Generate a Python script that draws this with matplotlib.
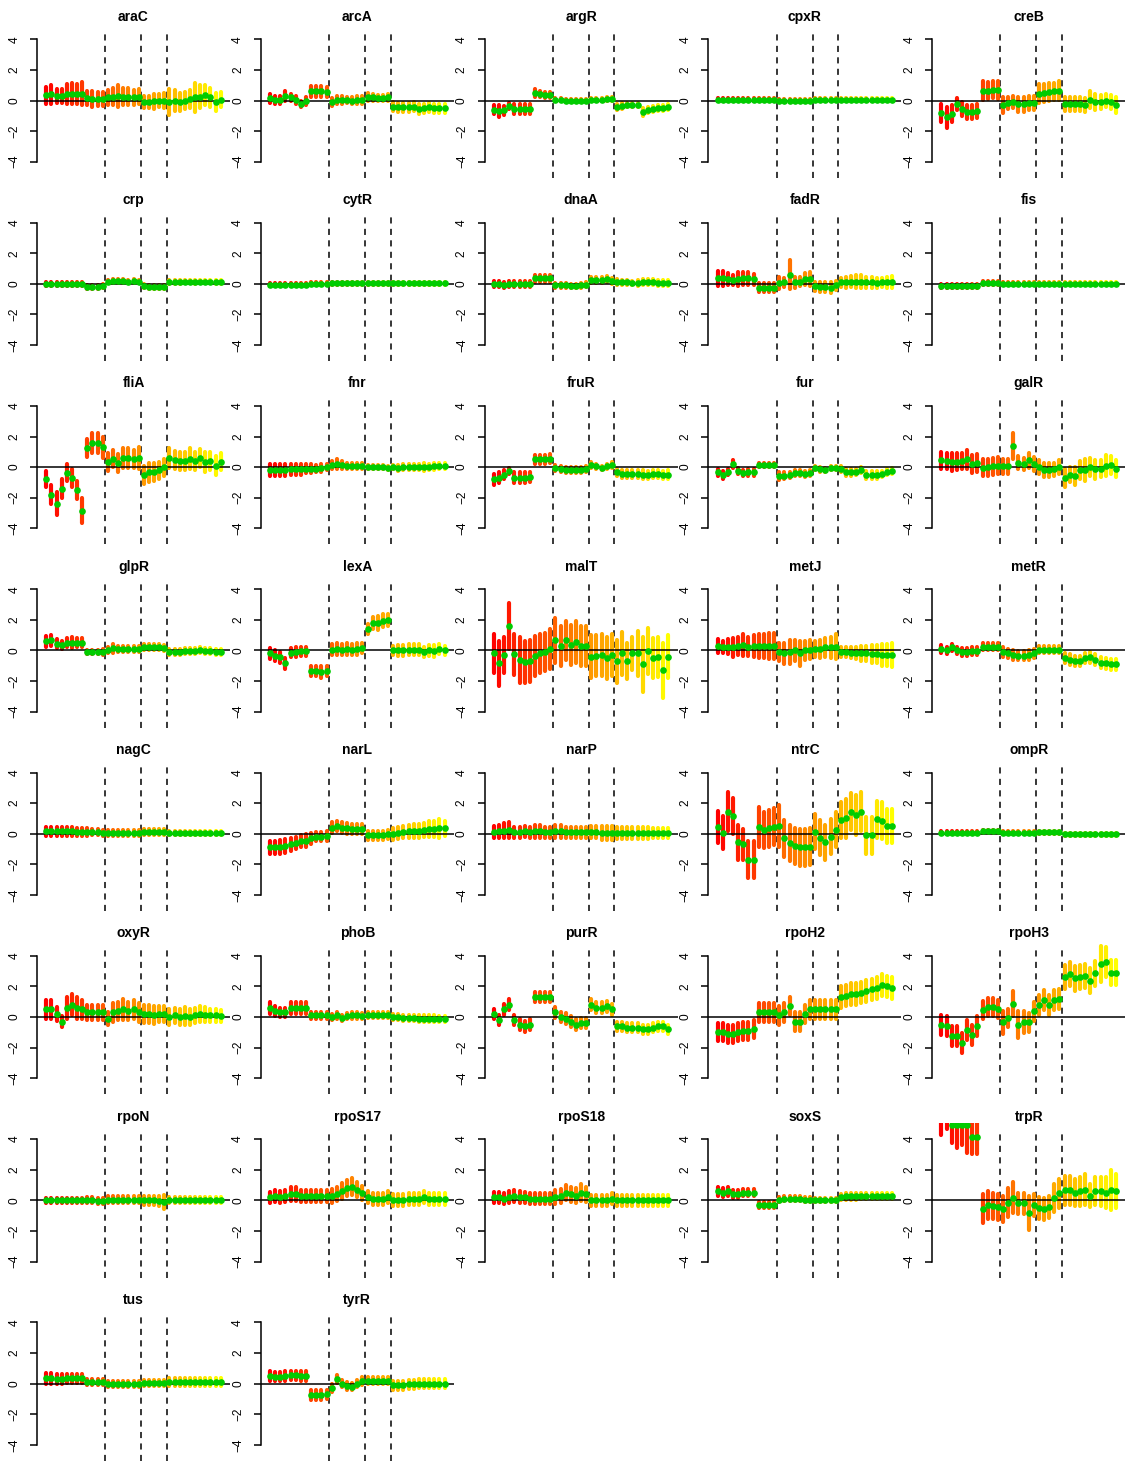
import matplotlib
matplotlib.use("Agg")
import matplotlib.pyplot as plt
from matplotlib.colors import LinearSegmentedColormap

plt.rcParams['font.family'] = ['Liberation Sans', 'DejaVu Sans']

# ---------------- data ----------------
tf_names = ["araC", "arcA", "argR", "cpxR", "creB",
            "crp", "cytR", "dnaA", "fadR", "fis",
            "fliA", "fnr", "fruR", "fur", "galR",
            "glpR", "lexA", "malT", "metJ", "metR",
            "nagC", "narL", "narP", "ntrC", "ompR",
            "oxyR", "phoB", "purR", "rpoH2", "rpoH3",
            "rpoN", "rpoS17", "rpoS18", "soxS", "trpR",
            "tus", "tyrR"]

conditions = list(range(1, 36))
boundaries = [12.5, 19.5, 24.5]
yticks = [-4, -2, 0, 2, 4]

mean_araC = [0.35,0.4,0.3,0.3,0.4,0.45,0.4,0.45, 0.15,0.1,0.1,0.1, 0.2,0.25,0.3,0.25,0.25,0.2,0.25, -0.1,-0.1,-0.05,0.0,0.0, -0.1,0.0,-0.1,0.0,0.1,0.2,0.25,0.35,0.2,-0.1,0.05]
err_araC = [0.55,0.6,0.45,0.45,0.65,0.7,0.65,0.75, 0.45,0.5,0.45,0.45, 0.5,0.55,0.7,0.55,0.55,0.5,0.5, 0.4,0.4,0.5,0.45,0.5, 0.85,0.7,0.6,0.55,0.6,0.95,0.75,0.65,0.6,0.6,0.5]

mean_arcA = [0.15,0.05,0.05,0.3,0.2,0.05,-0.2,-0.05, 0.6,0.6,0.6,0.55, -0.1,0.05,0.05,0.05,0.0,0.05,0.05, 0.25,0.2,0.15,0.15,0.2, -0.4,-0.45,-0.45,-0.45,-0.4,-0.55,-0.5,-0.45,-0.5,-0.5,-0.5]
err_arcA = [0.3,0.25,0.25,0.3,0.25,0.25,0.2,0.25, 0.35,0.35,0.35,0.3, 0.25,0.25,0.25,0.2,0.25,0.25,0.25, 0.25,0.2,0.2,0.2,0.25, 0.3,0.3,0.3,0.3,0.3,0.35,0.3,0.3,0.3,0.3,0.3]

mean_argR = [-0.6,-0.7,-0.65,-0.35,-0.55,-0.55,-0.55,-0.55, 0.5,0.4,0.35,0.35, 0.05,0.05,0.0,0.0,0.0,0.0,0.0, 0.05,0.05,0.05,0.1,0.1, -0.45,-0.35,-0.3,-0.3,-0.3,-0.75,-0.6,-0.55,-0.5,-0.5,-0.4]
err_argR = [0.3,0.4,0.3,0.2,0.3,0.3,0.3,0.3, 0.25,0.2,0.2,0.2, 0.1,0.1,0.1,0.1,0.1,0.1,0.1, 0.1,0.1,0.1,0.1,0.1, 0.2,0.2,0.15,0.15,0.15,0.25,0.2,0.2,0.2,0.2,0.2]

mean_cpxR = [0.05,0.05,0.05,0.05,0.05,0.05,0.05,0.05, 0.05,0.05,0.05,0.05, 0.0,0.0,0.0,0.0,0.0,0.0,0.0, 0.05,0.05,0.05,0.05,0.05, 0.05,0.05,0.05,0.05,0.05,0.05,0.05,0.05,0.05,0.05,0.05]
err_cpxR = [0.1,0.1,0.1,0.1,0.1,0.1,0.1,0.1, 0.1,0.1,0.1,0.1, 0.1,0.1,0.1,0.1,0.1,0.1,0.1, 0.1,0.1,0.1,0.1,0.1, 0.1,0.1,0.1,0.1,0.1,0.1,0.1,0.1,0.1,0.1,0.1]

mean_creB = [-0.8,-1.1,-0.85,-0.25,-0.55,-0.75,-0.75,-0.7, 0.65,0.65,0.7,0.7, -0.3,-0.15,-0.1,-0.25,-0.25,-0.15,-0.15, 0.45,0.5,0.55,0.6,0.65, -0.25,-0.25,-0.25,-0.25,-0.3,0.05,-0.1,-0.1,0.0,-0.1,-0.3]
err_creB = [0.6,0.7,0.55,0.4,0.45,0.45,0.45,0.45, 0.6,0.55,0.55,0.6, 0.5,0.4,0.4,0.5,0.5,0.45,0.45, 0.6,0.6,0.6,0.55,0.6, 0.45,0.45,0.45,0.45,0.45,0.55,0.5,0.45,0.45,0.45,0.5]

mean_crp = [0.0,0.0,0.0,0.0,0.0,0.0,0.0,0.0, -0.2,-0.2,-0.2,-0.15, 0.15,0.2,0.2,0.2,0.15,0.2,0.15, -0.15,-0.2,-0.2,-0.2,-0.2, 0.1,0.1,0.1,0.15,0.15,0.1,0.15,0.15,0.15,0.1,0.1]
err_crp = [0.12,0.12,0.12,0.12,0.12,0.12,0.12,0.12, 0.12,0.12,0.12,0.12, 0.12,0.12,0.12,0.12,0.12,0.12,0.12, 0.12,0.12,0.12,0.12,0.12, 0.12,0.12,0.12,0.12,0.12,0.12,0.12,0.12,0.12,0.12,0.12]

mean_cytR = [-0.05,-0.05,-0.05,-0.05,-0.05,-0.05,-0.05,-0.05, 0.0,0.0,0.0,0.0, 0.05,0.05,0.05,0.05,0.05,0.05,0.05, 0.05,0.05,0.05,0.05,0.05, 0.05,0.05,0.05,0.05,0.05,0.05,0.05,0.05,0.05,0.05,0.05]
err_cytR = [0.12,0.12,0.12,0.12,0.12,0.12,0.12,0.12, 0.1,0.1,0.1,0.1, 0.1,0.1,0.1,0.1,0.1,0.1,0.1, 0.1,0.1,0.1,0.1,0.1, 0.1,0.1,0.1,0.1,0.1,0.1,0.1,0.1,0.1,0.1,0.1]

mean_dnaA = [0.0,0.0,-0.05,0.0,0.0,0.0,0.0,0.0, 0.35,0.35,0.35,0.35, -0.1,-0.1,-0.1,-0.15,-0.15,-0.1,-0.05, 0.25,0.25,0.25,0.3,0.2, 0.1,0.1,0.1,0.05,0.05,0.1,0.1,0.1,0.05,0.05,0.05]
err_dnaA = [0.2,0.2,0.2,0.2,0.2,0.2,0.2,0.2, 0.25,0.25,0.25,0.25, 0.15,0.15,0.15,0.15,0.15,0.15,0.15, 0.2,0.2,0.2,0.2,0.2, 0.2,0.15,0.15,0.15,0.2,0.2,0.2,0.2,0.2,0.2,0.2]

mean_fadR = [0.35,0.35,0.3,0.25,0.3,0.35,0.35,0.3, -0.25,-0.25,-0.25,-0.25, 0.05,0.1,0.6,0.1,0.15,0.3,0.3, -0.15,-0.2,-0.2,-0.25,-0.1, 0.1,0.1,0.15,0.15,0.15,0.1,0.1,0.05,0.1,0.1,0.1]
err_fadR = [0.5,0.5,0.4,0.35,0.45,0.45,0.45,0.35, 0.3,0.3,0.3,0.3, 0.4,0.3,0.95,0.35,0.3,0.4,0.45, 0.3,0.35,0.35,0.35,0.3, 0.3,0.35,0.35,0.4,0.4,0.35,0.35,0.35,0.3,0.35,0.4]

mean_fis = [-0.15,-0.15,-0.15,-0.15,-0.15,-0.15,-0.15,-0.15, 0.05,0.05,0.05,0.05, 0.0,0.0,0.0,0.0,0.0,0.0,0.0, 0.0,0.0,0.0,0.0,0.0, 0.0,0.0,0.0,0.0,0.0,0.0,0.0,0.0,0.0,0.0,0.0]
err_fis = [0.12,0.12,0.12,0.12,0.12,0.12,0.12,0.12, 0.12,0.12,0.12,0.12, 0.1,0.1,0.1,0.1,0.1,0.1,0.1, 0.1,0.1,0.1,0.1,0.1, 0.1,0.1,0.1,0.1,0.1,0.1,0.1,0.1,0.1,0.1,0.1]

mean_fliA = [-0.77,-1.8,-2.4,-1.4,-0.37,-0.7,-1.5,-2.85, 1.25,1.55,1.55,1.3, 0.35,0.55,0.25,0.6,0.6,0.55,0.6, -0.5,-0.35,-0.3,-0.2,0.0, 0.6,0.45,0.4,0.4,0.55,0.4,0.6,0.35,0.4,0.1,0.35]
err_fliA = [0.5,0.6,0.75,0.6,0.55,0.6,0.6,0.8, 0.6,0.65,0.65,0.7, 0.6,0.55,0.6,0.65,0.65,0.6,0.7, 0.6,0.6,0.6,0.55,0.55, 0.65,0.6,0.6,0.6,0.7,0.6,0.6,0.65,0.6,0.6,0.55]

mean_fnr = [-0.2,-0.2,-0.2,-0.2,-0.15,-0.15,-0.15,-0.1, -0.1,-0.1,-0.05,0.0, 0.15,0.2,0.15,0.1,0.1,0.1,0.1, 0.0,0.0,0.0,0.0,-0.05, 0.0,-0.05,0.0,0.0,0.0,0.0,0.0,0.0,0.05,0.05,0.05]
err_fnr = [0.4,0.4,0.4,0.4,0.35,0.35,0.35,0.3, 0.3,0.25,0.25,0.2, 0.25,0.3,0.25,0.2,0.2,0.2,0.2, 0.15,0.15,0.15,0.15,0.15, 0.15,0.2,0.2,0.2,0.2,0.2,0.25,0.2,0.25,0.2,0.2]

mean_fruR = [-0.8,-0.7,-0.5,-0.25,-0.7,-0.7,-0.7,-0.65, 0.5,0.5,0.5,0.55, -0.05,-0.1,-0.2,-0.2,-0.2,-0.2,-0.15, 0.15,0.05,-0.05,0.05,0.15, -0.35,-0.45,-0.45,-0.45,-0.45,-0.5,-0.5,-0.45,-0.45,-0.5,-0.5]
err_fruR = [0.35,0.35,0.3,0.2,0.35,0.35,0.35,0.3, 0.3,0.3,0.3,0.3, 0.2,0.2,0.2,0.2,0.2,0.2,0.2, 0.2,0.15,0.15,0.15,0.2, 0.25,0.25,0.25,0.25,0.25,0.3,0.25,0.25,0.25,0.25,0.3]

mean_fur = [-0.35,-0.5,-0.3,0.2,-0.25,-0.4,-0.35,-0.35, 0.15,0.15,0.15,0.15, -0.6,-0.55,-0.5,-0.4,-0.4,-0.45,-0.4, -0.05,-0.15,-0.2,-0.05,-0.05, -0.1,-0.35,-0.35,-0.3,-0.2,-0.5,-0.5,-0.5,-0.45,-0.3,-0.25]
err_fur = [0.2,0.25,0.2,0.25,0.2,0.2,0.2,0.2, 0.15,0.15,0.15,0.15, 0.25,0.2,0.2,0.2,0.2,0.2,0.2, 0.15,0.15,0.15,0.15,0.15, 0.2,0.2,0.2,0.2,0.2,0.25,0.25,0.25,0.2,0.2,0.2]

mean_galR = [0.45,0.4,0.35,0.35,0.4,0.5,0.2,0.25, -0.05,0.0,0.05,0.1, 0.05,0.05,1.35,0.3,0.2,0.45,0.2, 0.0,-0.2,-0.2,-0.15,0.0, -0.7,-0.5,-0.6,-0.2,-0.2,0.0,-0.15,-0.1,0.1,0.15,-0.1]
err_galR = [0.55,0.55,0.6,0.55,0.55,0.6,0.6,0.6, 0.55,0.55,0.55,0.55, 0.5,0.5,0.85,0.45,0.4,0.5,0.45, 0.45,0.45,0.45,0.45,0.45, 0.6,0.5,0.6,0.6,0.7,0.6,0.6,0.55,0.7,0.6,0.55]

mean_glpR = [0.6,0.65,0.45,0.35,0.5,0.5,0.5,0.5, -0.1,-0.1,-0.1,-0.1, 0.0,0.15,0.1,0.1,0.1,0.1,0.1, 0.2,0.2,0.2,0.2,0.15, -0.1,-0.1,-0.1,-0.05,-0.05,-0.05,0.0,-0.05,-0.05,-0.1,-0.1]
err_glpR = [0.35,0.35,0.3,0.25,0.3,0.35,0.3,0.3, 0.15,0.15,0.15,0.2, 0.2,0.3,0.2,0.2,0.2,0.2,0.2, 0.2,0.2,0.2,0.2,0.2, 0.2,0.2,0.2,0.2,0.2,0.2,0.2,0.2,0.2,0.2,0.2]

mean_lexA = [-0.2,-0.35,-0.45,-0.85,-0.15,-0.1,-0.05,-0.05, -1.35,-1.35,-1.4,-1.35, 0.05,0.1,0.05,0.1,0.05,0.1,0.15, 1.4,1.8,1.8,1.95,2.0, 0.0,0.0,0.0,0.05,0.05,0.05,-0.1,0.0,-0.05,0.1,0.0]
err_lexA = [0.35,0.35,0.35,0.35,0.3,0.3,0.3,0.3, 0.35,0.35,0.4,0.35, 0.35,0.4,0.35,0.4,0.35,0.4,0.35, 0.35,0.4,0.45,0.45,0.4, 0.3,0.35,0.35,0.35,0.35,0.35,0.35,0.35,0.4,0.35,0.3]

mean_malT = [-0.2,-0.85,-0.3,1.6,-0.25,-0.6,-0.75,-0.7, -0.35,-0.2,-0.1,0.1, 0.65,0.3,0.65,0.35,0.55,0.3,0.3, -0.4,-0.35,-0.3,-0.5,-0.3, -0.7,-0.2,-0.7,-0.2,-0.2,-0.9,-0.05,-0.5,-0.45,-1.3,-0.4]
err_malT = [1.25,1.45,1.15,1.5,1.35,1.5,1.35,1.35, 1.3,1.25,1.25,1.3, 1.5,1.3,1.3,1.3,1.4,1.3,1.3, 1.4,1.35,1.35,1.35,1.35, 1.4,1.4,1.2,1.1,1.5,1.8,1.5,1.3,1.3,1.8,1.4]

mean_metJ = [0.3,0.2,0.25,0.2,0.3,0.35,0.25,0.3, 0.3,0.3,0.3,0.3, -0.1,-0.2,-0.1,0.0,-0.2,0.0,0.05, 0.1,0.1,0.2,0.2,0.25, -0.1,-0.1,-0.15,-0.15,-0.2,-0.2,-0.25,-0.25,-0.3,-0.3,-0.3]
err_metJ = [0.45,0.4,0.5,0.6,0.6,0.7,0.6,0.7, 0.8,0.8,0.85,0.85, 0.6,0.7,0.8,0.7,0.8,0.6,0.6, 0.5,0.6,0.6,0.7,0.8, 0.3,0.35,0.35,0.4,0.5,0.5,0.6,0.6,0.7,0.75,0.8]

mean_metR = [0.1,0.0,0.2,0.0,-0.1,-0.1,-0.05,-0.05, 0.25,0.25,0.25,0.25, -0.1,-0.2,-0.3,-0.35,-0.35,-0.3,-0.2, 0.05,0.05,0.05,0.05,0.05, -0.5,-0.6,-0.7,-0.7,-0.5,-0.45,-0.6,-0.8,-0.85,-0.9,-0.9]
err_metR = [0.25,0.25,0.25,0.25,0.25,0.25,0.25,0.25, 0.25,0.25,0.25,0.25, 0.3,0.3,0.3,0.3,0.3,0.3,0.3, 0.25,0.25,0.25,0.25,0.25, 0.35,0.35,0.35,0.35,0.35,0.35,0.35,0.35,0.35,0.35,0.35]

mean_nagC = [0.15,0.15,0.15,0.15,0.15,0.15,0.1,0.1, 0.1,0.1,0.1,0.05, 0.05,0.05,0.05,0.05,0.05,0.05,0.05, 0.1,0.1,0.1,0.1,0.1, 0.05,0.05,0.05,0.05,0.05,0.05,0.05,0.05,0.05,0.05,0.05]
err_nagC = [0.3,0.3,0.3,0.3,0.3,0.3,0.25,0.25, 0.25,0.2,0.2,0.2, 0.2,0.2,0.2,0.2,0.2,0.2,0.2, 0.2,0.2,0.2,0.2,0.2, 0.15,0.15,0.15,0.15,0.15,0.15,0.15,0.15,0.15,0.15,0.15]

mean_narL = [-0.9,-0.9,-0.85,-0.8,-0.7,-0.6,-0.5,-0.45, -0.3,-0.2,-0.2,-0.15, 0.4,0.5,0.4,0.35,0.3,0.3,0.3, -0.1,-0.1,-0.1,-0.1,-0.05, 0.0,0.05,0.1,0.15,0.2,0.2,0.25,0.3,0.3,0.35,0.35]
err_narL = [0.45,0.45,0.45,0.45,0.4,0.4,0.4,0.4, 0.35,0.3,0.3,0.3, 0.35,0.35,0.35,0.35,0.35,0.35,0.35, 0.3,0.3,0.3,0.3,0.3, 0.4,0.4,0.4,0.4,0.45,0.45,0.45,0.5,0.5,0.6,0.5]

mean_narP = [0.1,0.15,0.2,0.25,0.1,0.1,0.15,0.1, 0.15,0.15,0.1,0.1, 0.15,0.15,0.1,0.1,0.1,0.1,0.1, 0.1,0.1,0.05,0.05,0.05, 0.05,0.05,0.05,0.05,0.05,0.05,0.05,0.05,0.05,0.05,0.05]
err_narP = [0.4,0.45,0.5,0.5,0.35,0.35,0.35,0.35, 0.4,0.4,0.35,0.35, 0.4,0.4,0.35,0.35,0.35,0.35,0.35, 0.4,0.4,0.45,0.45,0.45, 0.4,0.4,0.4,0.4,0.4,0.4,0.4,0.35,0.35,0.35,0.35]

mean_ntrC = [0.42,0.07,1.45,1.15,-0.55,-0.7,-1.7,-1.7, 0.45,0.25,0.35,0.45, 0.5,-0.3,-0.6,-0.8,-0.9,-0.9,-0.85, 0.12,-0.25,-0.57,-0.2,0.25, 0.9,1.0,1.45,1.2,1.45,-0.1,-0.1,0.95,0.85,0.5,0.5]
err_ntrC = [1.05,1.07,1.25,1.2,1.15,1.0,1.2,1.2, 1.3,1.2,1.2,1.2, 1.4,1.2,1.2,1.2,1.2,1.2,1.2, 1.15,1.15,1.15,1.15,1.15, 1.2,1.3,1.2,1.3,1.3,1.2,1.2,1.2,1.2,1.1,1.1]

mean_ompR = [0.05,0.05,0.05,0.05,0.05,0.05,0.05,0.05, 0.15,0.15,0.15,0.15, 0.05,0.05,0.05,0.05,0.05,0.05,0.05, 0.1,0.1,0.1,0.1,0.1, -0.05,-0.05,-0.05,-0.05,-0.05,-0.05,-0.05,-0.05,-0.05,-0.05,-0.05]
err_ompR = [0.1,0.1,0.1,0.1,0.1,0.1,0.1,0.1, 0.12,0.12,0.12,0.12, 0.1,0.1,0.1,0.1,0.1,0.1,0.1, 0.1,0.1,0.1,0.1,0.1, 0.1,0.1,0.1,0.1,0.1,0.1,0.1,0.1,0.1,0.1,0.1]

mean_oxyR = [0.5,0.5,0.2,-0.3,0.6,0.8,0.6,0.5, 0.3,0.3,0.3,0.3, -0.1,0.3,0.4,0.5,0.4,0.5,0.3, 0.2,0.2,0.15,0.2,0.2, 0.0,0.1,0.0,0.05,0.0,0.1,0.2,0.15,0.1,0.1,0.05]
err_oxyR = [0.6,0.6,0.45,0.35,0.7,0.7,0.7,0.6, 0.5,0.5,0.5,0.5, 0.4,0.6,0.6,0.7,0.6,0.6,0.6, 0.6,0.6,0.6,0.5,0.5, 0.5,0.5,0.5,0.6,0.5,0.5,0.5,0.5,0.4,0.4,0.4]

mean_phoB = [0.6,0.4,0.3,0.3,0.6,0.6,0.6,0.6, 0.1,0.1,0.1,0.1, 0.0,0.1,-0.05,0.05,0.1,0.1,0.05, 0.15,0.15,0.15,0.15,0.15, 0.0,0.0,-0.05,-0.05,-0.05,-0.1,-0.1,-0.1,-0.1,-0.15,-0.15]
err_phoB = [0.4,0.35,0.3,0.3,0.4,0.4,0.4,0.4, 0.2,0.2,0.2,0.2, 0.2,0.2,0.2,0.2,0.2,0.2,0.2, 0.2,0.2,0.2,0.2,0.2, 0.2,0.2,0.2,0.2,0.2,0.2,0.2,0.2,0.2,0.2,0.2]

mean_purR = [0.2,-0.2,0.5,0.8,-0.2,-0.5,-0.6,-0.5, 1.3,1.3,1.3,1.3, 0.3,0.0,-0.1,-0.3,-0.5,-0.4,-0.4, 0.8,0.6,0.6,0.7,0.5, -0.6,-0.6,-0.7,-0.7,-0.7,-0.8,-0.8,-0.7,-0.6,-0.6,-0.8]
err_purR = [0.35,0.35,0.35,0.35,0.35,0.35,0.35,0.35, 0.35,0.35,0.35,0.35, 0.35,0.35,0.35,0.35,0.35,0.35,0.35, 0.35,0.35,0.35,0.35,0.35, 0.3,0.3,0.3,0.3,0.3,0.3,0.3,0.3,0.3,0.3,0.3]

mean_rpoH2 = [-1.0,-1.0,-1.1,-1.1,-1.0,-0.9,-0.9,-0.8, 0.3,0.3,0.3,0.3, 0.1,0.3,0.7,-0.3,-0.3,0.2,0.5, 0.5,0.5,0.5,0.5,0.5, 1.3,1.4,1.5,1.5,1.6,1.7,1.8,1.9,2.1,2.0,1.9]
err_rpoH2 = [0.6,0.6,0.6,0.6,0.6,0.6,0.6,0.6, 0.6,0.6,0.6,0.6, 0.6,0.6,0.6,0.6,0.6,0.6,0.6, 0.6,0.6,0.6,0.6,0.6, 0.7,0.7,0.7,0.7,0.7,0.7,0.7,0.7,0.7,0.7,0.7]

mean_rpoH3 = [-0.55,-0.6,-1.27,-1.27,-1.7,-0.83,-1.16,-0.6, 0.45,0.65,0.65,0.53, -0.35,-0.05,0.88,-0.5,-0.33,-0.35,0.37, 0.77,1.1,0.8,1.1,1.2, 2.63,2.8,2.52,2.63,2.67,2.37,2.85,3.47,3.6,2.9,2.9]
err_rpoH3 = [0.65,0.65,0.65,0.65,0.65,0.65,0.65,0.65, 0.6,0.6,0.6,0.6, 0.75,0.6,0.8,0.9,0.7,0.6,0.6, 0.65,0.65,0.65,0.65,0.65, 0.8,0.8,0.8,0.8,0.8,0.8,0.8,1.2,1.0,0.8,0.8]

mean_rpoN = [0.0,0.0,0.0,0.0,0.0,0.0,0.0,0.0, 0.0,0.0,-0.05,-0.05, 0.05,0.05,0.05,0.05,0.05,0.05,0.05, 0.0,0.0,0.0,-0.05,-0.1, 0.0,0.0,0.0,0.0,0.0,0.0,0.0,0.0,0.0,0.0,0.0]
err_rpoN = [0.15,0.15,0.15,0.15,0.15,0.15,0.15,0.15, 0.2,0.2,0.2,0.2, 0.2,0.2,0.2,0.2,0.2,0.2,0.2, 0.3,0.3,0.3,0.35,0.45, 0.2,0.2,0.2,0.2,0.2,0.2,0.2,0.2,0.2,0.2,0.2]

mean_rpoS17 = [0.2,0.3,0.2,0.3,0.4,0.4,0.3,0.3, 0.3,0.3,0.3,0.3, 0.3,0.4,0.6,0.8,0.9,0.7,0.5, 0.2,0.1,0.1,0.1,0.2, 0.0,0.0,0.0,0.1,0.1,0.1,0.2,0.1,0.1,0.1,0.1]
err_rpoS17 = [0.35,0.4,0.4,0.4,0.45,0.45,0.4,0.4, 0.4,0.4,0.4,0.4, 0.45,0.45,0.5,0.5,0.55,0.5,0.45, 0.4,0.4,0.4,0.4,0.4, 0.4,0.4,0.4,0.4,0.4,0.4,0.4,0.4,0.4,0.4,0.4]

mean_rpoS18 = [0.2,0.2,0.1,0.2,0.3,0.2,0.2,0.1, 0.1,0.1,0.1,0.1, 0.2,0.3,0.5,0.4,0.3,0.5,0.4, 0.0,0.0,0.0,0.0,0.1, 0.0,0.0,0.0,0.0,0.0,0.0,0.0,0.0,0.0,0.0,0.0]
err_rpoS18 = [0.35,0.35,0.35,0.4,0.4,0.4,0.35,0.35, 0.35,0.35,0.35,0.35, 0.45,0.45,0.5,0.5,0.5,0.55,0.5, 0.35,0.35,0.35,0.35,0.35, 0.35,0.35,0.35,0.35,0.35,0.35,0.35,0.35,0.35,0.35,0.35]

mean_soxS = [0.6,0.5,0.6,0.4,0.4,0.5,0.5,0.5, -0.3,-0.3,-0.3,-0.3, 0.05,0.1,0.1,0.1,0.1,0.05,0.05, 0.0,0.0,0.0,0.0,0.0, 0.2,0.25,0.25,0.25,0.3,0.3,0.3,0.3,0.3,0.3,0.3]
err_soxS = [0.3,0.3,0.3,0.25,0.25,0.25,0.25,0.25, 0.2,0.2,0.2,0.2, 0.15,0.15,0.15,0.15,0.15,0.15,0.15, 0.12,0.12,0.12,0.12,0.12, 0.2,0.2,0.2,0.2,0.2,0.2,0.2,0.2,0.2,0.2,0.2]

mean_trpR = [5.3,5.4,4.95,4.9,4.95,4.95,4.15,4.15, -0.55,-0.3,-0.4,-0.45, -0.55,-0.15,0.18,-0.2,-0.2,-0.83,-0.3, -0.5,-0.57,-0.45,0.15,0.45, 0.65,0.65,0.5,0.6,0.7,0.3,0.6,0.6,0.5,0.65,0.6]
err_trpR = [1.0,0.75,1.2,1.5,1.35,1.85,1.1,1.1, 0.95,0.9,0.85,0.85, 0.85,0.95,1.0,0.7,0.7,1.1,0.7, 0.7,0.7,0.7,0.9,0.95, 0.95,0.95,0.9,0.95,1.0,0.75,0.9,0.95,1.0,1.3,1.1]

mean_tus = [0.35,0.35,0.3,0.3,0.35,0.35,0.35,0.35, 0.1,0.1,0.1,0.1, 0.0,0.0,0.0,0.0,0.0,0.0,0.0, 0.05,0.05,0.05,0.05,0.05, 0.1,0.1,0.1,0.1,0.1,0.1,0.1,0.1,0.1,0.1,0.1]
err_tus = [0.35,0.35,0.3,0.3,0.3,0.3,0.3,0.3, 0.2,0.2,0.2,0.2, 0.2,0.2,0.2,0.2,0.2,0.2,0.2, 0.2,0.2,0.2,0.2,0.2, 0.25,0.25,0.25,0.25,0.25,0.25,0.25,0.25,0.25,0.25,0.25]

mean_tyrR = [0.5,0.45,0.45,0.5,0.55,0.55,0.5,0.5, -0.75,-0.75,-0.75,-0.7, -0.3,0.3,0.0,-0.15,-0.2,0.0,0.15, 0.2,0.2,0.2,0.2,0.2, -0.1,-0.1,-0.1,-0.05,-0.05,0.0,0.0,0.0,0.0,0.0,0.0]
err_tyrR = [0.3,0.3,0.3,0.3,0.3,0.3,0.3,0.3, 0.3,0.3,0.3,0.3, 0.25,0.25,0.25,0.25,0.25,0.25,0.25, 0.25,0.25,0.25,0.25,0.25, 0.3,0.3,0.3,0.3,0.3,0.3,0.3,0.3,0.3,0.3,0.3]

g = globals()
panels = [(name, g["mean_" + name], g["err_" + name]) for name in tf_names]

# ---------------- layout (pixels) ----------------
W, H = 1126, 1462
fig = plt.figure(figsize=(W / 100, H / 100), dpi=100)

cmap = LinearSegmentedColormap.from_list("ry", ["#FF0000", "#FF4500", "#FF8C00", "#FFC000", "#FFFF00"])
bar_colors = [cmap(i / (len(conditions) - 1)) for i in range(len(conditions))]

YLIM = (-5.05, 5.05)
XLIM = (-0.8, 36.8)
px_per_unit = 15.3
ax_h = (YLIM[1] - YLIM[0]) * px_per_unit
ax_w = 193

for k, (name, m, e) in enumerate(panels):
    r, c = divmod(k, 5)
    left = 37 + 223.8 * c
    y0 = 100.5 + 183.3 * r
    top = y0 - YLIM[1] * px_per_unit
    ax = fig.add_axes([left / W, 1 - (top + ax_h) / H, ax_w / W, ax_h / H])
    ax.set_xlim(*XLIM)
    ax.set_ylim(*YLIM)
    ax.patch.set_visible(False)
    for s in ["top", "right", "bottom"]:
        ax.spines[s].set_visible(False)
    ax.spines["left"].set_bounds(-4, 4)
    ax.spines["left"].set_linewidth(1.1)
    ax.set_xticks([])
    ax.set_yticks(yticks)
    ax.set_yticklabels([str(t).replace("-", "\u2212") for t in yticks],
                       rotation=90, va="center", fontsize=8.6)
    ax.tick_params(axis="y", length=5, width=1.1, pad=7)

    lo = [mi - ei for mi, ei in zip(m, e)]
    hi = [mi + ei for mi, ei in zip(m, e)]
    ax.vlines(conditions, lo, hi, colors=bar_colors, linewidth=3.0,
              capstyle="round", zorder=2)
    ax.axhline(0, color="black", linewidth=1.1, zorder=3)
    ax.vlines(boundaries, YLIM[0], 4.5, colors="black", linewidth=1.1,
              linestyles=(0, (4, 3.5)), zorder=1)
    ax.plot(conditions, m, "o", color="#00CC00", markersize=4.8,
            markeredgewidth=0, zorder=4)
    fig.text((left + ax_w / 2) / W, 1 - (top - 6.5) / H, name,
             ha="center", va="center", fontsize=10, fontweight="bold")

fig.savefig("out.png", dpi=100)
